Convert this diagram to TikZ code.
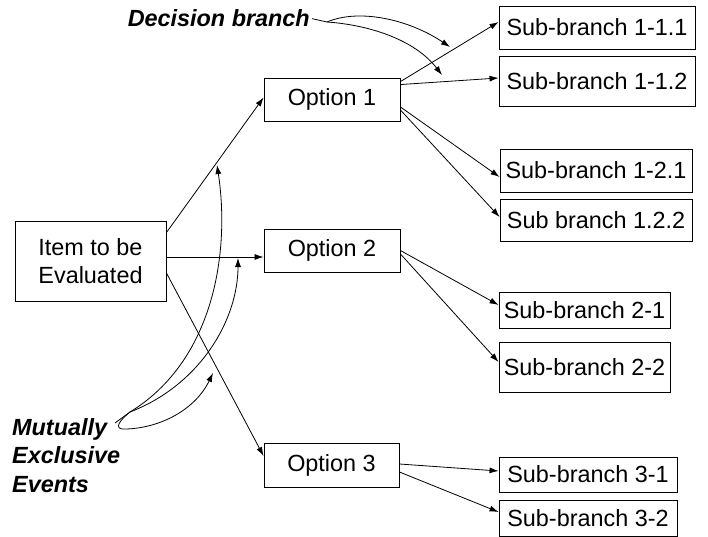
\documentclass[tikz,border=0pt]{standalone}
\usepackage{fontspec}
\setmainfont{Liberation Sans}
\usetikzlibrary{arrows.meta}
\begin{document}
\begin{tikzpicture}[x=1pt,y=-1pt,
  font=\fontsize{23.4}{28.5}\selectfont,
  box/.style={draw,line width=0.9pt,inner sep=0pt,align=center},
  note/.style={font=\fontsize{23.4}{28.5}\selectfont\bfseries\itshape,inner sep=2pt},
  link/.style={line width=0.8pt,-{Latex[length=9pt,width=6pt]}},
  plain/.style={line width=0.8pt}]
\useasboundingbox (0,0) rectangle (708,537);

% main item and options
\node[box,minimum width=151pt,minimum height=80pt] (item) at (90.5,261) {Item to be\\Evaluated};
\node[box,minimum width=136pt,minimum height=43pt] (o1) at (332,99.5) {Option 1};
\node[box,minimum width=136pt,minimum height=43pt] (o2) at (332,250.5) {Option 2};
\node[box,minimum width=135pt,minimum height=44pt] (o3) at (331.5,465) {Option 3};

% sub-branches
\node[box,minimum width=196pt,minimum height=43pt] (s111) at (597,27.5) {Sub-branch 1-1.1};
\node[box,minimum width=196pt,minimum height=50pt] (s112) at (597,81) {Sub-branch 1-1.2};
\node[box,minimum width=192pt,minimum height=43pt] (s121) at (596,170.5) {Sub-branch 1-2.1};
\node[box,minimum width=192pt,minimum height=42pt] (s122) at (596,220) {Sub branch 1.2.2};
\node[box,minimum width=171pt,minimum height=36pt] (s21) at (584.5,310) {Sub-branch 2-1};
\node[box,minimum width=171pt,minimum height=50pt] (s22) at (584.5,367) {Sub-branch 2-2};
\node[box,minimum width=178pt,minimum height=35pt] (s31) at (588,474.5) {Sub-branch 3-1};
\node[box,minimum width=178pt,minimum height=36pt] (s32) at (588,518) {Sub-branch 3-2};

% branches from the item
\draw[link] ([yshift=-12pt]item.north east) -- ([yshift=2pt]o1.west);
\draw[link] ([yshift=4pt]item.east) -- ([yshift=4pt]item.east -| o2.west);
\draw[link] ([yshift=-12pt]item.east) -- ([yshift=9pt]o3.west);

% branches from option 1
\draw[link] ([yshift=-4pt]o1.north east) -- ([yshift=5.5pt]s111.west);
\draw[link] ([yshift=-7pt]o1.north east) -- ([yshift=3pt]s112.west);
\draw[link] ([yshift=-7.5pt]o1.east) -- ([yshift=-6.5pt]s121.west);
\draw[link] ([yshift=-10.5pt]o1.east) -- ([yshift=3pt]s122.west);

% branches from option 2
\draw[link] (o2.east) -- ([yshift=5pt]s21.west);
\draw[link] ([yshift=-3.5pt]o2.east) -- ([yshift=5pt]s22.west);

% branches from option 3
\draw[link] ([yshift=1pt]o3.east) -- ([yshift=3.5pt]s31.west);
\draw[link] ([yshift=-7pt]o3.east) -- ([yshift=6pt]s32.west);

% annotation: decision branch
\node[note,anchor=base east] (dec) at (312,27) {Decision branch};
\coordinate (d0) at (327,22);
\coordinate (d1) at (450,47);
\coordinate (d2) at (442,75);
\draw[plain] (dec.east) -- (d0);
\draw[link] (d0) .. controls (360,8) and (410,20) .. (d1);
\draw[link] (d0) .. controls (370,25) and (415,40) .. (d2);

% annotation: mutually exclusive events (base anchor = last line)
\node[note,anchor=base west,align=left,inner sep=0pt] (mut) at (12,492) {Mutually\\Exclusive\\Events};
\coordinate (m) at (115,423);
\coordinate (m0) at (130,412);
\coordinate (a1) at (217,165);
\coordinate (a2) at (238,258);
\coordinate (a3) at (213,373);
\draw[plain] (m) -- (m0);
\draw[link] (m0) .. controls (215,360) and (230,250) .. (a1);
\draw[link] (m0) .. controls (200,385) and (238,320) .. (a2);
\draw[link] (m0) .. controls (120,420) and (112,430) .. (126,429)
  .. controls (160,428) and (195,410) .. (a3);
\end{tikzpicture}
\end{document}
